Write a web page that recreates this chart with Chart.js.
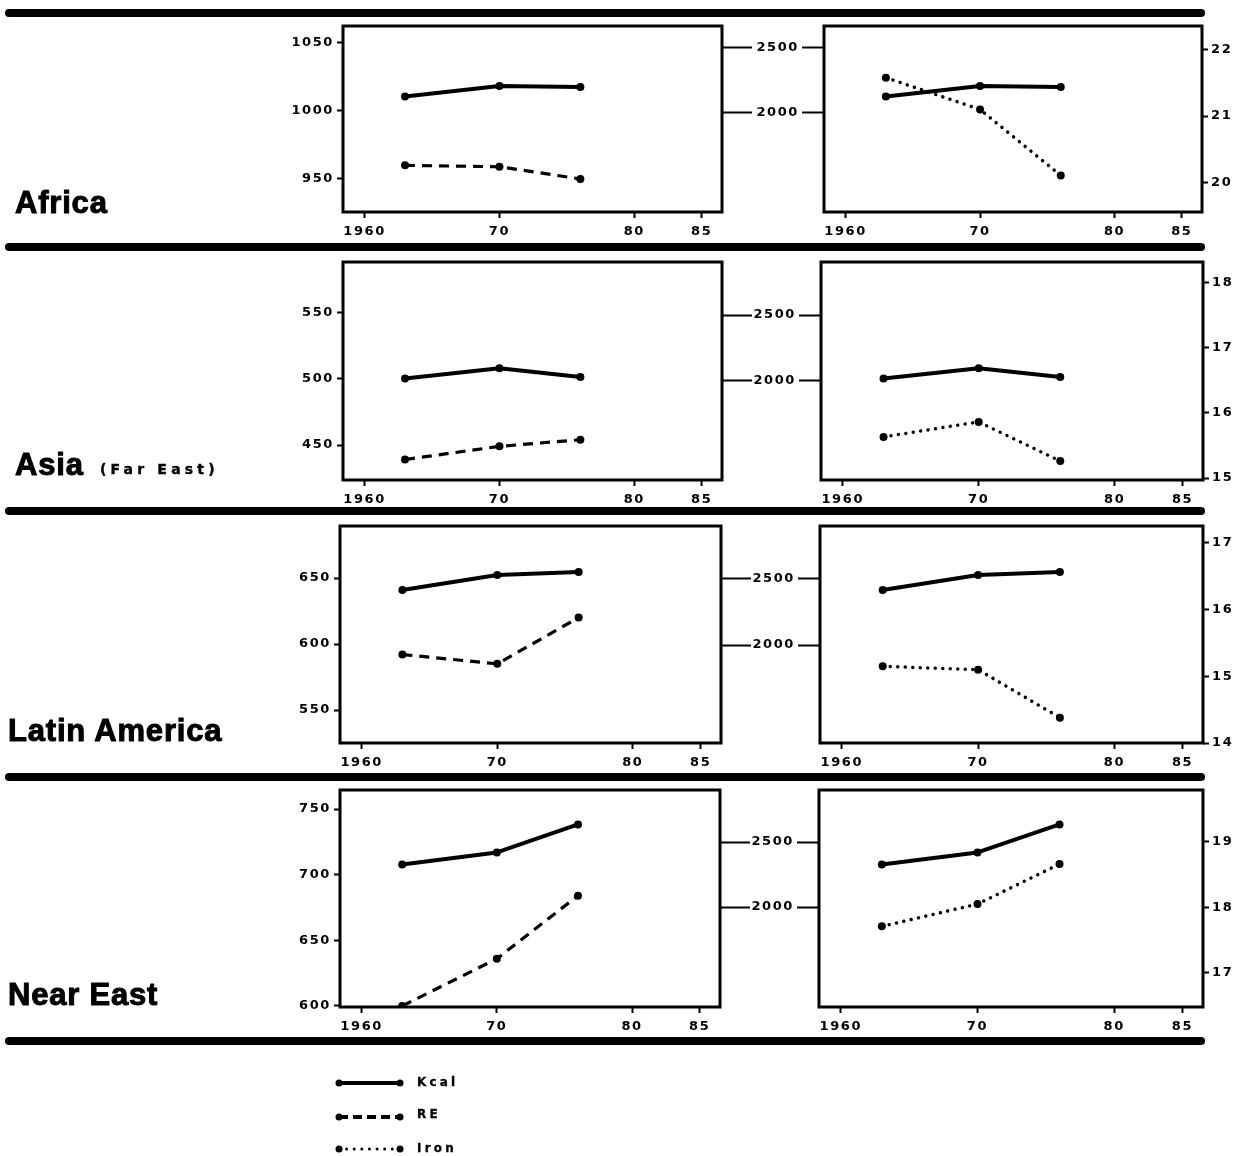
<!DOCTYPE html>
<html>
<head>
<meta charset="utf-8">
<script src="https://cdn.jsdelivr.net/npm/chart.js@4.4.1/dist/chart.umd.min.js"></script>
<style>
  html, body { margin: 0; padding: 0; background: #fff; overflow: hidden; }
  #page { position: relative; width: 1240px; height: 1156px; background: #fff; overflow: hidden; }
  #page canvas { position: absolute; }
  #page svg { position: absolute; left: 0; top: 0; }
</style>
</head>
<body>
<div id="page"></div>
<script>
// ---- data -------------------------------------------------------------
const regions = ['Africa', 'Asia', 'Latin America', 'Near East'];
const regionNotes = ['', '(Far East)', '', ''];
const seriesNames = ['Kcal', 'RE', 'Iron'];

const years = [1963, 1970, 1976];

const kcalAfrica        = [2127, 2208, 2200];
const kcalAsia          = [2015, 2093, 2027];
const kcalLatinAmerica  = [2417, 2530, 2553];
const kcalNearEast      = [2327, 2420, 2635];

const reAfrica          = [960, 959, 950];
const reAsia            = [439, 449, 454];
const reLatinAmerica    = [592, 585, 620];
const reNearEast        = [600, 636, 684];

const ironAfrica        = [21.58, 21.10, 20.10];
const ironAsia          = [15.63, 15.86, 15.26];
const ironLatinAmerica  = [15.15, 15.10, 14.38];
const ironNearEast      = [17.71, 18.05, 18.66];

const yearTicks = [1960, 1970, 1980, 1985];
const yearTickLabels = ['1960', '70', '80', '85'];
const kcalTicks = [2000, 2500];
const reTicksAfrica = [950, 1000, 1050];
const reTicksAsia = [450, 500, 550];
const reTicksLatinAmerica = [550, 600, 650];
const reTicksNearEast = [600, 650, 700, 750];
const ironTicksAfrica = [20, 21, 22];
const ironTicksAsia = [15, 16, 17, 18];
const ironTicksLatinAmerica = [14, 15, 16, 17];
const ironTicksNearEast = [17, 18, 19];

const kcalByRegion = [kcalAfrica, kcalAsia, kcalLatinAmerica, kcalNearEast];
const reByRegion = [reAfrica, reAsia, reLatinAmerica, reNearEast];
const ironByRegion = [ironAfrica, ironAsia, ironLatinAmerica, ironNearEast];
const reTicksByRegion = [reTicksAfrica, reTicksAsia, reTicksLatinAmerica, reTicksNearEast];
const ironTicksByRegion = [ironTicksAfrica, ironTicksAsia, ironTicksLatinAmerica, ironTicksNearEast];

// ---- axis extents per row ------------------------------------------------
const yearRange = [1958.4, 1986.5];
const reRange   = [[925.7, 1062.5], [423.5, 588.6], [525, 689.4], [599.2, 764.5]];
const kcalRange = [[1238, 2669], [1240, 2905], [1258, 2901], [1231, 2900]];
const ironRange = [[19.55, 22.36], [14.97, 18.31], [14, 17.255], [16.48, 19.79]];

// ---- page layout (plot frames in page pixels) ----------------------------
const rowFrames = [
  { top: 26,  bottom: 212,  left: [343, 722], right: [824, 1202] },
  { top: 262, bottom: 480,  left: [343, 722], right: [821, 1203] },
  { top: 526, bottom: 743,  left: [340, 721], right: [820, 1203] },
  { top: 790, bottom: 1007, left: [340, 720], right: [819, 1203] }
];
const ruleRows = [13, 247, 511, 777, 1041];
const labelBaselines = [213, 475, 741, 1005];
const labelLefts = [15, 15, 8, 8];

const page = document.getElementById('page');
const tickFont = { family: '"DejaVu Sans", sans-serif', weight: 'bold', size: 13 };

// thick frame around each plot area + spaced tick lettering
const framePlugin = {
  id: 'frame',
  beforeDraw(chart) { chart.ctx.letterSpacing = '1.6px'; },
  afterDraw(chart) {
    const { left, top, right, bottom } = chart.chartArea;
    const ctx = chart.ctx;
    ctx.save();
    ctx.strokeStyle = '#000';
    ctx.lineWidth = 3;
    ctx.strokeRect(left, top, right - left, bottom - top);
    ctx.restore();
  }
};

function xAxis() {
  return {
    type: 'linear', position: 'bottom',
    min: yearRange[0], max: yearRange[1],
    afterBuildTicks: s => { s.ticks = yearTicks.map(v => ({ value: v })); },
    afterFit: s => { s.height = 32; },
    grid: { display: true, drawOnChartArea: false, drawTicks: true, tickLength: 6, tickWidth: 2, tickColor: '#000' },
    border: { display: false },
    ticks: {
      color: '#000', font: tickFont, padding: 6, maxRotation: 0, autoSkip: false,
      callback: (v, i) => yearTickLabels[i]
    }
  };
}

function yAxis(position, range, ticks, width, tickLength, showLabels, padding) {
  return {
    type: 'linear', position,
    min: range[0], max: range[1],
    afterBuildTicks: s => { s.ticks = ticks.map(v => ({ value: v })); },
    afterFit: s => { s.width = width; },
    grid: { display: true, drawOnChartArea: false, drawTicks: true, tickLength, tickWidth: 2, tickColor: '#000' },
    border: { display: false },
    ticks: {
      display: showLabels, color: '#000', font: tickFont, padding, autoSkip: false,
      callback: v => String(v)
    }
  };
}

function points(values) {
  return years.map((y, i) => ({ x: y, y: values[i] }));
}

const styleKcal = { borderColor: '#000', backgroundColor: '#000', borderWidth: 4, borderJoinStyle: 'round', borderCapStyle: 'round', pointRadius: 4, pointBackgroundColor: '#000', pointBorderWidth: 0 };
const styleRE   = { borderColor: '#000', backgroundColor: '#000', borderWidth: 3.2, borderDash: [10, 7], pointRadius: 4, pointBackgroundColor: '#000', pointBorderWidth: 0 };
const styleIron = { borderColor: '#000', backgroundColor: '#000', borderWidth: 3.5, borderDash: [0.01, 7.5], borderCapStyle: 'round', pointRadius: 4, pointBackgroundColor: '#000', pointBorderWidth: 0 };

function panel(frameLeft, frameRight, frameTop, frameBottom, margins, datasets, scales) {
  const [mL, mR, mT, mB] = margins;
  const w = Math.round(frameRight - frameLeft + mL + mR);
  const h = Math.round(frameBottom - frameTop + mT + mB);
  const c = document.createElement('canvas');
  c.width = w; c.height = h;
  c.style.width = w + 'px'; c.style.height = h + 'px';
  c.style.left = (frameLeft - mL) + 'px';
  c.style.top = (frameTop - mT) + 'px';
  page.appendChild(c);
  new Chart(c, {
    type: 'line',
    data: { datasets },
    options: {
      responsive: false, animation: false, devicePixelRatio: 1,
      layout: { padding: { top: mT, left: 0, right: 0, bottom: 0 } },
      plugins: { legend: { display: false }, tooltip: { enabled: false } },
      scales
    },
    plugins: [framePlugin]
  });
}

regions.forEach((name, r) => {
  const f = rowFrames[r];
  // left plot: RE on its own axis, Kcal on the shared middle axis
  panel(f.left[0], f.left[1], f.top, f.bottom, [75, 34, 14, 32], [
    Object.assign({ label: seriesNames[0], data: points(kcalByRegion[r]), xAxisID: 'x', yAxisID: 'kcal' }, styleKcal),
    Object.assign({ label: seriesNames[1], data: points(reByRegion[r]), xAxisID: 'x', yAxisID: 're' }, styleRE)
  ], {
    x: xAxis(),
    re: yAxis('left', reRange[r], reTicksByRegion[r], 75, 6, true, 3),
    kcal: yAxis('right', kcalRange[r], kcalTicks, 34, 30, false, 0)
  });
  // right plot: Kcal on the middle axis, Iron on the right axis
  panel(f.right[0], f.right[1], f.top, f.bottom, [80, 40, 14, 32], [
    Object.assign({ label: seriesNames[0], data: points(kcalByRegion[r]), xAxisID: 'x', yAxisID: 'kcal' }, styleKcal),
    Object.assign({ label: seriesNames[2], data: points(ironByRegion[r]), xAxisID: 'x', yAxisID: 'iron' }, styleIron)
  ], {
    x: xAxis(),
    kcal: yAxis('left', kcalRange[r], kcalTicks, 80, 22, true, 3),
    iron: yAxis('right', ironRange[r], ironTicksByRegion[r], 40, 6, true, 3)
  });
});

// ---- rules, region names and key ------------------------------------------
const NS = 'http://www.w3.org/2000/svg';
const svg = document.createElementNS(NS, 'svg');
svg.setAttribute('width', 1240);
svg.setAttribute('height', 1156);
page.appendChild(svg);

function el(tag, attrs, text) {
  const e = document.createElementNS(NS, tag);
  for (const k in attrs) e.setAttribute(k, attrs[k]);
  if (text !== undefined) e.textContent = text;
  svg.appendChild(e);
  return e;
}

ruleRows.forEach(y => el('line', { x1: 9, y1: y, x2: 1201, y2: y, stroke: '#000', 'stroke-width': 8, 'stroke-linecap': 'round' }));

regions.forEach((name, r) => {
  el('text', {
    x: labelLefts[r], y: labelBaselines[r],
    'font-family': '"Liberation Sans", Arial, sans-serif', 'font-weight': 'bold', 'font-size': 31,
    'letter-spacing': 0.8, fill: '#000', stroke: '#000', 'stroke-width': 1
  }, name);
  if (regionNotes[r]) {
    el('text', {
      x: 100, y: labelBaselines[r] - 1,
      'font-family': '"DejaVu Sans", sans-serif', 'font-weight': 'bold', 'font-size': 14,
      'letter-spacing': 4.2, fill: '#000', stroke: '#000', 'stroke-width': 0.4
    }, regionNotes[r]);
  }
});

// key
const keyY = [1083, 1117, 1149];
const keyText = [1086, 1118, 1152];
el('line', { x1: 339, y1: keyY[0], x2: 400, y2: keyY[0], stroke: '#000', 'stroke-width': 4 });
el('line', { x1: 339, y1: keyY[1], x2: 400, y2: keyY[1], stroke: '#000', 'stroke-width': 4, 'stroke-dasharray': '9 5' });
el('line', { x1: 339, y1: keyY[2], x2: 400, y2: keyY[2], stroke: '#000', 'stroke-width': 3, 'stroke-dasharray': '0.01 7.6', 'stroke-linecap': 'round' });
keyY.forEach(y => {
  el('circle', { cx: 339, cy: y, r: 3.5, fill: '#000' });
  el('circle', { cx: 400, cy: y, r: 3.5, fill: '#000' });
});
seriesNames.forEach((n, i) => el('text', {
  x: 417, y: keyText[i],
  'font-family': '"DejaVu Sans", sans-serif', 'font-weight': 'bold', 'font-size': 12,
  'letter-spacing': 3.2, fill: '#000', stroke: '#000', 'stroke-width': 0.3
}, n));
</script>
</body>
</html>
